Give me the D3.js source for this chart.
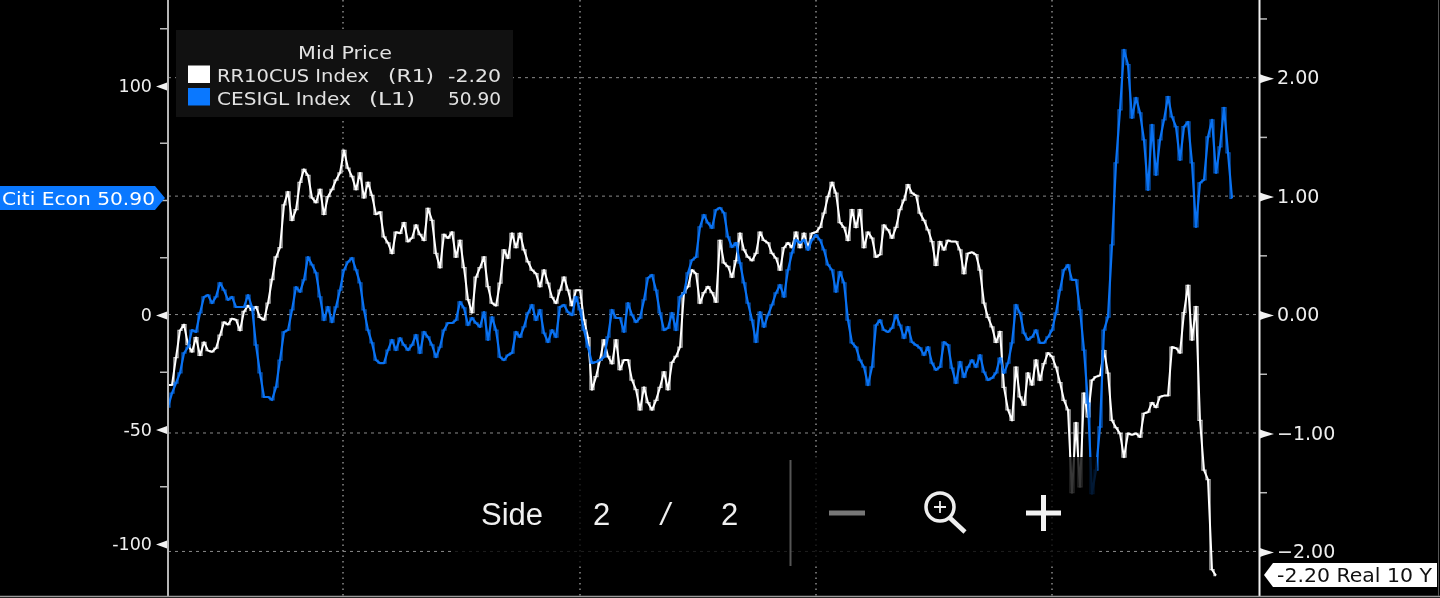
<!DOCTYPE html>
<html>
<head>
<meta charset="utf-8">
<script src="https://cdn.jsdelivr.net/npm/d3@7/dist/d3.min.js"></script>
<style>
html,body{margin:0;padding:0;background:#000;overflow:hidden}
svg{display:block;filter:blur(0.5px)}
</style>
</head>
<body>
<svg id="chart" width="1440" height="598" font-family="DejaVu Sans"></svg>
<script>
// RR10CUS Index, right axis, sampled at even periods
const realYield = [-.59,-.59,-.36,-.13,-.08,-.25,-.31,-.19,-.34,-.23,-.30,-.31,-.28,-.17,-.06,-.08,-.03,-.04,-.13,.03,.08,.04,.07,-.02,-.04,.10,.30,.49,.57,.93,1.04,.80,.89,1.12,1.23,1.18,.99,.95,1.06,.85,1.00,1.06,1.14,1.20,1.39,1.24,1.17,1.06,1.20,.99,1.12,1.01,.85,.87,.66,.61,.52,.70,.69,.78,.62,.65,.76,.68,.63,.90,.80,.52,.40,.68,.65,.70,.49,.63,.40,.13,.02,.32,.40,.49,.24,.10,.08,.27,.55,.48,.69,.57,.69,.55,.45,.38,.35,.24,.38,.27,.15,.10,.21,.32,.21,.08,.21,.21,-.04,-.19,-.63,-.52,-.38,-.21,-.35,-.41,-.21,-.46,-.38,-.38,-.55,-.63,-.80,-.61,-.74,-.80,-.72,-.61,-.48,-.63,-.40,-.35,-.27,.19,.24,.38,.35,.10,.19,.24,.19,.11,.63,.44,.41,.32,.46,.69,.55,.49,.46,.52,.70,.63,.61,.52,.48,.38,.57,.61,.57,.70,.57,.69,.57,.69,.70,.74,.86,1.00,1.12,1.03,.78,.74,.63,.89,.74,.89,.57,.70,.65,.49,.51,.76,.72,.65,.74,.89,.97,1.10,1.03,1.01,.86,.80,.72,.62,.42,.62,.55,.63,.62,.62,.55,.35,.52,.53,.51,.38,.10,-.02,-.10,-.23,-.14,-.61,-.80,-.89,-.44,-.69,-.76,-.49,-.59,-.38,-.55,-.41,-.32,-.35,-.44,-.57,-.72,-.80,-1.50,-.91,-1.45,-.66,-.86,-.55,-.52,-.51,-.30,-.49,-.89,-.95,-1.00,-1.20,-1.00,-1.01,-1.00,-1.03,-.83,-.82,-.74,-.78,-.69,-.68,-.68,-.27,-.28,-.32,.02,.25,-.21,.07,-.89,-1.31,-1.39,-2.15,-2.20];
// CESIGL Index, left axis, sampled at even periods
const citiSurprise = [-40.2,-34.1,-29.7,-25.3,-16.6,-14.0,-6.6,-7.4,.9,7.9,8.7,5.2,7.9,14.0,10.9,6.6,7.9,3.5,3.5,3.5,8.7,3.5,-13.1,-25.3,-35.8,-35.8,-37.1,-31.5,-19.7,-7.4,-6.6,2.2,12.2,10.1,15.3,25.3,21.9,18.4,7.9,-2.2,3.5,-3.1,3.5,10.9,19.7,23.2,24.9,19.7,14.0,2.2,-6.6,-12.2,-19.7,-21.0,-21.0,-15.3,-10.9,-15.3,-10.1,-13.1,-15.3,-13.1,-8.7,-16.6,-7.4,-9.6,-13.1,-18.4,-14.0,-6.6,-3.5,-3.5,-2.2,5.7,3.1,-4.4,-1.3,-3.5,-5.2,1.3,-10.9,-.9,-6.6,-18.4,-19.7,-17.5,-16.6,-7.4,-9.6,-5.2,.9,4.4,-2.2,2.2,-7.9,-11.8,-6.6,-9.6,3.5,4.4,1.3,0,7.9,2.2,-6.6,-14.0,-21.0,-20.5,-19.7,-18.4,-9.6,2.2,-1.3,-1.3,-7.4,5.2,0,-3.1,-1.3,6.6,16.2,17.5,10.9,.9,-6.6,-5.7,.9,-6.6,7.9,9.6,18.4,24.0,25.3,38.5,43.7,40.2,38.0,45.9,46.8,44.6,34.1,29.7,31.5,22.7,14.0,5.2,-2.2,-11.8,1.3,-5.2,0,4.4,9.6,13.1,7.9,19.7,27.1,32.8,31.5,32.8,28.4,32.8,35.0,32.8,28.4,21.9,19.7,10.1,18.8,14.0,-2.2,-12.2,-14.0,-19.7,-22.7,-30.6,-22.7,-4.4,-2.2,-6.6,-7.4,-5.7,0,-4.4,-10.1,-5.2,-11.8,-13.1,-14.4,-17.5,-14.0,-21.0,-24.0,-22.7,-11.8,-13.1,-23.2,-29.7,-20.5,-27.1,-22.7,-19.7,-22.7,-17.5,-24.9,-28.4,-27.5,-25.3,-18.8,-25.3,-21.0,-12.2,4.4,.9,-7.9,-10.9,-9.6,-6.6,-12.2,-12.2,-9.6,-6.6,.9,10.9,19.7,21.9,15.3,15.3,2.2,-15.3,-38.5,-78.0,-67.7,-48.9,-6.6,-.9,30.6,66.4,89.6,115.8,109.3,86.1,94.8,88.3,76.5,54.6,83.0,61.2,76.5,85.2,95.3,86.5,82.2,67.7,82.2,84.3,66.4,38.5,57.7,59.0,77.8,85.2,62.1,73.4,90.5,70.8,50.9];
const gridPeriods = [43.75,103,162,221];
const leftMajor = [100,0,-50,-100];
const leftMinor = [125,75,50,25,-25,-75];
const rightMajor = [2,1,0,-1,-2];
const rightMinor = [2.5,1.5,.5,-.5,-1.5];
const legendTitle = "Mid Price";
const legendRows = [
  {swatch:"#ffffff",name:"RR10CUS Index",side:"(R1)",last:"-2.20"},
  {swatch:"#0a78ff",name:"CESIGL Index",side:"(L1)",last:"50.90"}
];
const leftTag = "Citi Econ 50.90";
const rightTag = "-2.20 Real 10 Y";
const pagerText = ["Side","2","/","2"];

const svg = d3.select("#chart");
const x = d3.scaleLinear().domain([0,266]).range([168,1232]);
const yL = d3.scaleLinear().domain([-122.7,137.55]).range([596,0]);
const yR = d3.scaleLinear().domain([-2.372,2.66]).range([596,0]);
const gridCol="#8a8a8a";

// gridlines
svg.append("g").selectAll("line").data(rightMajor).join("line")
  .attr("x1",168).attr("x2",1259).attr("y1",d=>yR(d)-.5).attr("y2",d=>yR(d)-.5)
  .attr("stroke",gridCol).attr("stroke-width",1).attr("stroke-dasharray","3 4");
svg.append("g").selectAll("line").data(gridPeriods).join("line")
  .attr("x1",d=>x(d)).attr("x2",d=>x(d)).attr("y1",0).attr("y2",596)
  .attr("stroke",gridCol).attr("stroke-width",1.5).attr("stroke-dasharray","1.5 4");

// series: a straight trace with a fine stepped trace over it, as the terminal renders tick data
const seriesLine = (s,curve)=>d3.line().x((d,i)=>x(i)).y(d=>s(d)).curve(curve);
function drawSeries(values,scale,colour,w){
  svg.append("path").datum(values).attr("d",seriesLine(scale,d3.curveLinear)).attr("fill","none")
    .attr("stroke",colour).attr("stroke-width",w).attr("stroke-linejoin","round");
  svg.append("path").datum(values).attr("d",seriesLine(scale,d3.curveStep)).attr("fill","none")
    .attr("stroke",colour).attr("stroke-width",1.3).attr("stroke-opacity",.75);
}
drawSeries(realYield,yR,"#fff",2);
drawSeries(citiSurprise,yL,"#0a72f2",2.2);

// axes
function styleAxis(g,dir,minorVals,scale){
  g.select(".domain").remove();
  g.selectAll(".tick line").remove();
  g.selectAll(".tick").append("path")
    .attr("d",dir<0?"M0,-4 L-4,-2.5 L-11,0 L-4,2.5 L0,4Z":"M0,-4.5 L4,-3 L14,0 L4,3 L0,4.5Z")
    .attr("fill","#f2f2f2");
  g.selectAll(".minor").data(minorVals).join("line").attr("class","minor")
    .attr("x1",0).attr("x2",dir*7).attr("y1",d=>scale(d)).attr("y2",d=>scale(d))
    .attr("stroke","#bbb").attr("stroke-width",1.5);
}
const gl = svg.append("g").attr("transform","translate(167,0)")
  .call(d3.axisLeft(yL).tickValues(leftMajor).tickSize(0).tickPadding(15).tickFormat(d=>String(d)));
gl.selectAll("text").attr("font-size",17.5).attr("fill","#eee").attr("font-family","DejaVu Sans").attr("dy","0.34em");
styleAxis(gl,-1,leftMinor,yL);
const gr = svg.append("g").attr("transform","translate(1260,0)")
  .call(d3.axisRight(yR).tickValues(rightMajor).tickSize(0).tickPadding(17).tickFormat(d3.format(".2f")));
gr.selectAll("text").attr("font-size",19).attr("fill","#eee").attr("font-family","DejaVu Sans").attr("dy","0.3em");
styleAxis(gr,1,rightMinor,yR);

// axis and frame rules
svg.append("line").attr("x1",168).attr("x2",168).attr("y1",0).attr("y2",596).attr("stroke","#b5b5b5").attr("stroke-width",2);
svg.append("line").attr("x1",1259.5).attr("x2",1259.5).attr("y1",0).attr("y2",596).attr("stroke","#f0f0f0").attr("stroke-width",2);
svg.append("line").attr("x1",0).attr("x2",1440).attr("y1",596.5).attr("y2",596.5).attr("stroke","#9a9a9a").attr("stroke-width",1.5);
svg.append("line").attr("x1",1438.5).attr("x2",1438.5).attr("y1",0).attr("y2",596).attr("stroke","#555").attr("stroke-width",1);

// legend
const lg = svg.append("g");
lg.append("rect").attr("x",176).attr("y",30).attr("width",337).attr("height",87).attr("fill","#111");
const fit = {lengthAdjust:"spacingAndGlyphs"};
lg.append("text").attr("x",298).attr("y",59).attr("font-size",18.5).attr("fill","#e2e2e2").attr("textLength",94).attr("lengthAdjust",fit.lengthAdjust).text(legendTitle);
legendRows.forEach((r,i)=>{
  const base=82+i*22.5, top=65.5+i*22.5;
  lg.append("rect").attr("x",188).attr("y",top).attr("width",22).attr("height",17.5).attr("fill",r.swatch);
  lg.append("text").attr("x",217).attr("y",base).attr("font-size",18.5).attr("fill","#e2e2e2")
    .attr("textLength",i?134:152).attr("lengthAdjust",fit.lengthAdjust).text(r.name);
  lg.append("text").attr("x",i?369:388).attr("y",base).attr("font-size",18.5).attr("fill","#e2e2e2")
    .attr("textLength",46).attr("lengthAdjust",fit.lengthAdjust).text(r.side);
  lg.append("text").attr("x",448).attr("y",base).attr("font-size",18.5).attr("fill","#e2e2e2")
    .attr("textLength",53).attr("lengthAdjust",fit.lengthAdjust).text(r.last);
});

// value flags
svg.append("path").attr("d","M0,186 H155 L165,198 L155,210 H0Z").attr("fill","#0a78ff");
svg.append("text").attr("x",2).attr("y",205).attr("font-size",18).attr("fill","#fff").attr("textLength",153).attr("lengthAdjust",fit.lengthAdjust).text(leftTag);
svg.append("path").attr("d","M1264,575 L1273,563 H1437 V587 H1273Z").attr("fill","#fff");
svg.append("text").attr("x",1277).attr("y",582).attr("font-size",19).attr("fill","#111").attr("textLength",155).attr("lengthAdjust",fit.lengthAdjust).text(rightTag);

// viewer overlay
const ov = svg.append("g");
ov.append("rect").attr("x",452).attr("y",457).attr("width",645).attr("height",108).attr("fill","#000").attr("opacity",.78);
[[481,0],[593,1],[661,2],[721,3]].forEach(([px,i])=>{
  ov.append("text").attr("x",px).attr("y",525).attr("font-family","Liberation Sans").attr("font-size",31)
    .attr("fill","#f0f0f0").attr("font-style",i===2?"italic":"normal").text(pagerText[i]);
});
ov.append("line").attr("x1",790.5).attr("x2",790.5).attr("y1",460).attr("y2",566).attr("stroke","#555").attr("stroke-width",2);
ov.append("line").attr("x1",829).attr("x2",865).attr("y1",513).attr("y2",513).attr("stroke","#777").attr("stroke-width",5);
ov.append("circle").attr("cx",940).attr("cy",507).attr("r",14).attr("fill","none").attr("stroke","#eee").attr("stroke-width",3.5);
ov.append("line").attr("x1",950).attr("x2",965).attr("y1",518).attr("y2",532).attr("stroke","#eee").attr("stroke-width",4.5);
ov.append("path").attr("d","M934,507H946M940,501V513").attr("stroke","#eee").attr("stroke-width",1.8).attr("fill","none");
ov.append("path").attr("d","M1026,513H1061M1043.5,495V531").attr("stroke","#f2f2f2").attr("stroke-width",5).attr("fill","none");
</script>
</body>
</html>
